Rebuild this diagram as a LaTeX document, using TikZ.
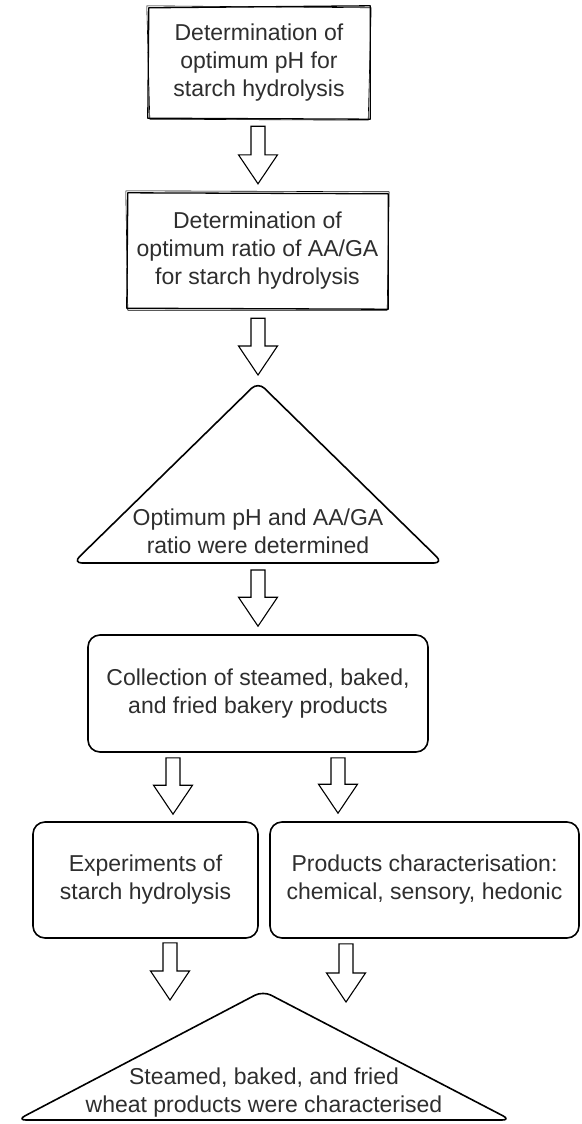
\documentclass[tikz,border=0pt]{standalone}
\usepackage{fontspec}
\setmainfont{Liberation Sans}
\usetikzlibrary{calc}
\tikzset{
  lbl/.style={align=center, font=\fontsize{23}{28}\selectfont, text=black!82},
  rbox/.style={lbl, draw, line width=1.6pt, rounded corners=12pt, minimum height=116pt},
  plainbox/.style={lbl, inner sep=0pt},
  barrow/.style={draw, line width=1.1pt, fill=white, line join=miter},
  tri/.style={draw, line width=1.6pt, rounded corners=9pt, line join=round},
  sketch/.style={draw, line width=1.3pt, line join=round},
  sketchthin/.style={draw, line width=0.6pt, line join=round},
}
\newcommand\blockarrow[2]{%
  \path[barrow] let \p1=(#1), \p2=(#2) in
    (\x1-7pt,\y1) -- (\x1+7pt,\y1) -- (\x1+7pt,\y2+29pt) -- (\x1+19.5pt,\y2+29pt)
    -- (\x1,\y2) -- (\x1-19.5pt,\y2+29pt) -- (\x1-7pt,\y2+29pt) -- cycle;}
\begin{document}
\begin{tikzpicture}[x=1pt,y=-1pt]
\useasboundingbox[fill=white] (0,0) rectangle (581,1124);

% --- sketchy box 1
\node[plainbox, minimum width=222pt, minimum height=112pt] (b1) at (259,63)
  {Determination of\\optimum pH for\\starch hydrolysis};
\path[sketch] ($(b1.north west)+(1,1)$) -- ($(b1.north east)+(0,-1)$) -- ($(b1.south east)+(0,0)$) -- ($(b1.south west)+(0,-1)$) -- cycle;
\path[sketchthin] ($(b1.north west)+(-1,-1)$) -- ($(b1.north east)+(1,1)$) -- ($(b1.south east)+(-2,1)$) -- ($(b1.south west)+(2,0)$) -- cycle;

% --- sketchy box 2
\node[plainbox, minimum width=261pt, minimum height=116pt] (b2) at (257.5,251)
  {Determination of\\optimum ratio of AA/GA\\for starch hydrolysis};
\path[sketch] ($(b2.north west)+(1,0)$) -- ($(b2.north east)+(0,1)$) -- ($(b2.south east)+(0,0)$) -- ($(b2.south west)+(0,-1)$) -- cycle;
\path[sketchthin] ($(b2.north west)+(-1,-2)$) -- ($(b2.north east)+(1,-1)$) -- ($(b2.south east)+(-1,1)$) -- ($(b2.south west)+(1,1)$) -- cycle;

% --- triangle 1
\coordinate (t1apex) at (258,382);
\coordinate (t1left) at (73,563);
\coordinate (t1right) at (443,563);
\path[tri] ($(t1left)!0.5!(t1right)$) -- (t1right) -- (t1apex) -- (t1left) -- cycle;
\node[plainbox] (t1) at (258,531) {Optimum pH and AA/GA\\ratio were determined};

% --- rounded boxes
\node[rbox, minimum width=340pt, minimum height=117pt] (b3) at (258,693.5)
  {Collection of steamed, baked,\\and fried bakery products};
\node[rbox, minimum width=225pt] (b4) at (145.5,880)
  {Experiments of\\starch hydrolysis};
\node[rbox, minimum width=309pt] (b5) at (424.5,880)
  {Products characterisation:\\chemical, sensory, hedonic};

% --- triangle 2
\coordinate (t2apex) at (263,991);
\coordinate (t2left) at (17,1120);
\coordinate (t2right) at (511,1120);
\path[tri] ($(t2left)!0.5!(t2right)$) -- (t2right) -- (t2apex) -- (t2left) -- cycle;
\node[plainbox] (t2) at (264,1092.5) {Steamed, baked, and fried\\wheat products were characterised};

% --- block arrows
\coordinate (xa) at (258,0);
\coordinate (xl1) at (173,0);
\coordinate (xr1) at (338,0);
\coordinate (xl2) at (170,0);
\coordinate (xr2) at (346,0);
\blockarrow{$(xa|-b1.south)+(0,7)$}{$(xa|-b2.north)+(0,-9)$}
\blockarrow{$(xa|-b2.south)+(0,9)$}{$(t1apex)+(0,-7)$}
\blockarrow{$(xa|-t1left)+(0,7)$}{$(xa|-b3.north)+(0,-8)$}
\blockarrow{$(xl1|-b3.south)+(0,5)$}{$(xl1|-b4.north)+(0,-7)$}
\blockarrow{$(xr1|-b3.south)+(0,5)$}{$(xr1|-b5.north)+(0,-8)$}
\blockarrow{$(xl2|-b4.south)+(0,4)$}{$(xl2|-t2apex)+(0,9)$}
\blockarrow{$(xr2|-b5.south)+(0,5)$}{$(xr2|-t2apex)+(0,11)$}
\end{tikzpicture}
\end{document}
